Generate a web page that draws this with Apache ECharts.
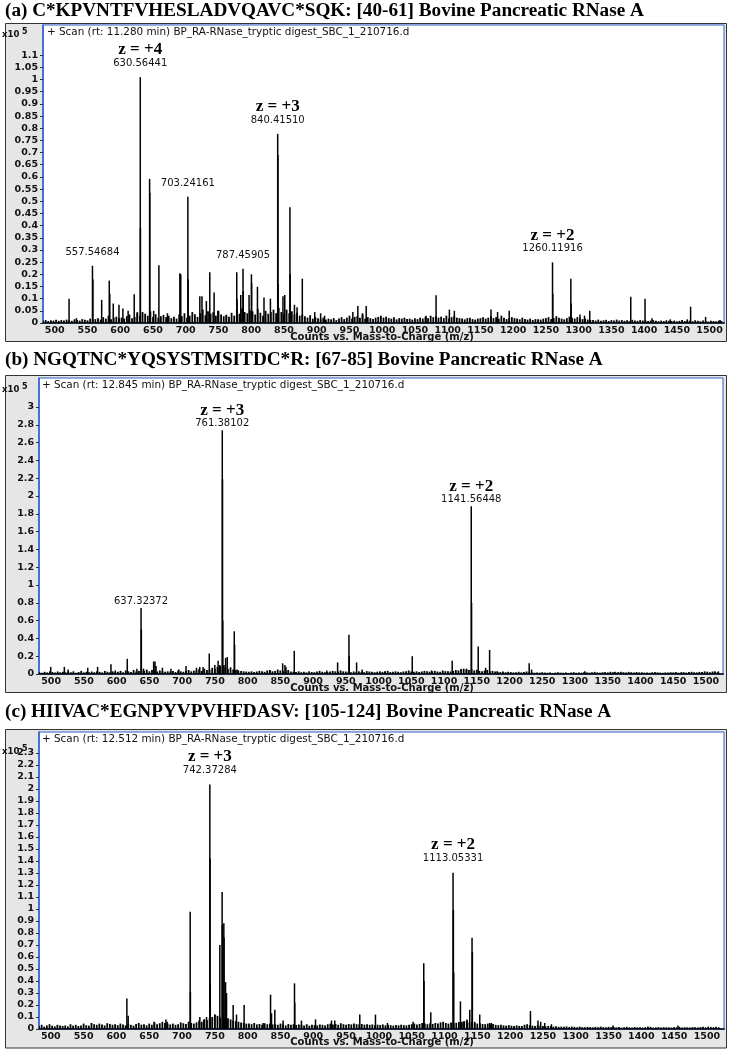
<!DOCTYPE html>
<html><head><meta charset="utf-8">
<script src="https://cdn.jsdelivr.net/npm/echarts@6.0.0/dist/echarts.min.js"></script>
<style>html,body{margin:0;padding:0;background:#fff}#c{width:730px;height:1050px}</style>
</head><body><div id="c"></div>
<script>
// ---------------- DATA ----------------
const titles = [
  '(a) C*KPVNTFVHESLADVQAVC*SQK: [40-61] Bovine Pancreatic RNase A',
  '(b) NGQTNC*YQSYSTMSITDC*R: [67-85] Bovine Pancreatic RNase A',
  '(c) HIIVAC*EGNPYVPVHFDASV: [105-124] Bovine Pancreatic RNase A'
];
const scanHeaders = [
  '+ Scan (rt: 11.280 min) BP_RA-RNase_tryptic digest_SBC_1_210716.d',
  '+ Scan (rt: 12.845 min) BP_RA-RNase_tryptic digest_SBC_1_210716.d',
  '+ Scan (rt: 12.512 min) BP_RA-RNase_tryptic digest_SBC_1_210716.d'
];
const xAxisTitle = 'Counts vs. Mass-to-Charge (m/z)';
const xTicks = [500,550,600,650,700,750,800,850,900,950,1000,1050,1100,1150,1200,1250,1300,1350,1400,1450,1500];
const yTicksA = [0,0.05,0.1,0.15,0.2,0.25,0.3,0.35,0.4,0.45,0.5,0.55,0.6,0.65,0.7,0.75,0.8,0.85,0.9,0.95,1,1.05,1.1];
const yTicksB = [0,0.2,0.4,0.6,0.8,1,1.2,1.4,1.6,1.8,2,2.2,2.4,2.6,2.8,3];
const yTicksC = [0,0.1,0.2,0.3,0.4,0.5,0.6,0.7,0.8,0.9,1,1.1,1.2,1.3,1.4,1.5,1.6,1.7,1.8,1.9,2,2.1,2.2,2.3];

// peaks: [m/z, intensity (x10^5 counts)]
const peaksA = [
 [521.8,0.10],[533,0.02],[557.55,0.235],[558.2,0.18],[571.6,0.095],[583.2,0.174],[584,0.12],[589.3,0.08],[598,0.075],[604,0.06],[612,0.05],
 [621.3,0.118],[626,0.045],[630.56,1.01],[630.81,0.39],[644.8,0.592],[645.1,0.535],[651,0.05],[659,0.237],[672,0.04],[691,0.204],[692.4,0.2],
 [703.24,0.519],[703.6,0.18],[721.5,0.11],[724.8,0.11],[731.5,0.09],[736.7,0.208],[743.3,0.125],[749,0.05],[762,0.03],[777.9,0.208],[778.3,0.1],
 [784,0.115],[787.46,0.223],[787.8,0.13],[796.7,0.115],[800.3,0.2],[800.6,0.165],[809.5,0.149],[819.5,0.105],[829.3,0.1],[840.42,0.777],
 [840.75,0.69],[841.1,0.16],[848.5,0.11],[851.2,0.115],[859.1,0.475],[859.5,0.2],[866,0.075],[870,0.065],[878,0.182],[897,0.045],[906,0.04],
 [912,0.03],[955.2,0.045],[962.8,0.07],[970,0.04],[975.6,0.07],[1067,0.03],[1082.3,0.114],[1102.6,0.055],[1110.2,0.05],[1166.2,0.055],
 [1176.2,0.045],[1194,0.05],[1260.12,0.249],[1260.5,0.12],[1288.1,0.182],[1288.5,0.08],[1302,0.035],[1309,0.03],[1317,0.05],[1379.6,0.108],
 [1401.4,0.10],[1412,0.02],[1440,0.015],[1466,0.015],[1471,0.067],[1493.9,0.025],[1516,0.012]
];
const peaksB = [
 [499.4,0.08],[520.2,0.08],[526,0.05],[555.9,0.07],[571,0.08],[591.4,0.11],[598,0.04],[616.3,0.17],[631,0.06],[637.32,0.742],[637.8,0.5],
 [641,0.06],[656.6,0.14],[658.6,0.14],[660.2,0.09],[670,0.07],[683,0.06],[695,0.05],[706,0.09],[722,0.07],[727,0.08],[732,0.08],[741.5,0.23],
 [750,0.1],[755,0.15],[757.5,0.1],[761.38,2.738],[761.71,2.19],[762.05,0.6],[764,0.1],[766.5,0.18],[769,0.19],[779.7,0.48],[780.2,0.33],
 [784,0.05],[834,0.04],[853.6,0.12],[857.1,0.1],[858.6,0.08],[871.3,0.26],[921,0.04],[937.5,0.13],[954.8,0.44],[955.3,0.2],[966.5,0.13],
 [975,0.05],[1009.8,0.03],[1051.5,0.2],[1081,0.04],[1112.5,0.15],[1134.5,0.06],[1141.56,1.884],[1142.06,0.8],[1152.2,0.31],[1163.5,0.07],
 [1169.6,0.27],[1181,0.03],[1230,0.12],[1233.7,0.05],[1315,0.03],[1361,0.025],[1462.7,0.02],[1513.6,0.03],[1519,0.03]
];
const peaksC = [
 [615.9,0.253],[617.9,0.11],[657.5,0.06],[675.4,0.08],[677.3,0.06],[712.4,0.977],[712.75,0.31],[727.1,0.1],[733.2,0.08],[737.3,0.1],
 [742.37,2.035],[742.7,1.42],[743.05,0.38],[750,0.12],[757.6,0.70],[761.1,1.14],[761.45,0.866],[763.7,0.88],[764.05,0.76],[766.3,0.39],
 [767.8,0.3],[777.9,0.2],[783,0.12],[794.6,0.2],[823.6,0.05],[834.9,0.286],[836.4,0.13],[841.4,0.16],[854,0.07],[871.4,0.38],[871.8,0.22],
 [882,0.07],[903.4,0.08],[927.8,0.07],[932.8,0.07],[970.9,0.12],[994.8,0.12],[1013,0.05],[1052.1,0.06],[1068.4,0.547],[1068.8,0.4],
 [1079.1,0.14],[1113.05,1.302],[1113.55,0.99],[1114.05,0.47],[1124.3,0.23],[1128.3,0.06],[1134.4,0.08],[1138.5,0.16],[1142,0.76],
 [1142.5,0.64],[1146.1,0.06],[1153.7,0.12],[1169,0.05],[1171.5,0.05],[1231,0.15],[1242.5,0.07],[1246.6,0.06],[1252.7,0.05],[1263,0.04],
 [1356.8,0.03],[1410,0.02],[1455.8,0.03]
];

// baseline noise: heights in 0.001 x10^5 counts, on an m/z grid starting at 482, step 4
const noiseStart = 482, noiseStep = 4;
const noiseA = [
 9,12,8,11,10,13,9,12,10,14, 11,9,15,12,10,16,13,11,18,14, 16,20,14,24,18,30,15,22,26,19, 22,18,28,35,20,25,40,30,45,38,
 30,48,25,36,22,28,33,24,30,20, 26,18,35,28,40,22,30,45,36,25, 40,55,32,48,38,44,30,50,35,28, 34,26,42,30,55,38,60,45,40,52,
 48,35,58,42,30,50,38,45,55,40, 62,45,38,55,40,48,35,42,30,36, 28,22,32,18,25,20,16,22,14,18, 15,20,12,18,24,16,22,30,18,25,
 28,22,35,18,24,20,16,22,25,30, 22,26,20,18,24,15,20,18,22,16, 18,14,20,16,22,18,25,20,30,24, 28,22,26,20,30,18,24,28,22,20,
 18,15,20,22,16,14,18,20,24,18, 22,28,20,24,18,30,22,16,20,24, 20,18,15,22,16,14,18,12,16,15, 14,18,20,24,16,20,28,22,18,15,
 20,26,22,18,24,20,16,18,14,12, 12,10,14,9,11,13,8,12,10,14, 10,12,9,11,8,13,10,9,12,10, 11,8,10,12,9,7,10,8,11,9,
 8,10,7,9,12,8,10,9,7,11, 9,7,10,8,6,9,8,7,10,8
];
const noiseB = [
 20,15,25,18,30,22,16,28,20,24, 18,26,20,30,15,22,35,18,25,20, 28,20,32,24,18,35,26,20,30,22, 25,35,20,40,30,22,45,28,35,30,
 38,50,30,45,35,28,40,32,25,30, 28,35,22,40,30,25,35,45,30,38, 40,55,35,60,45,50,70,55,80,90, 85,70,60,75,50,45,40,35,30,28,
 25,30,22,28,35,30,25,40,45,30, 35,50,40,35,30,45,28,25,22,30, 20,25,18,30,22,20,28,35,25,20, 22,28,35,30,25,40,30,28,25,20,
 28,22,30,25,20,32,28,24,20,26, 30,24,28,35,22,26,30,25,20,28, 32,40,28,25,30,22,28,35,30,26, 30,35,28,25,40,32,30,28,35,45,
 40,55,60,50,45,55,40,48,35,30, 38,45,30,35,28,25,22,28,20,25, 22,18,20,25,18,22,28,20,18,15, 18,15,20,16,14,18,12,16,20,15,
 14,18,12,16,20,14,18,15,22,18, 16,20,24,18,15,20,22,18,25,20, 18,22,25,20,18,24,20,16,22,18, 20,16,18,14,20,22,18,16,14,18,
 16,20,18,22,15,18,20,16,22,25, 20,18,24,22,30,26,20,28,24,20
];
const noiseC = [
 25,35,20,30,40,28,22,35,30,25, 30,22,40,28,35,25,30,45,32,28, 50,40,35,45,38,30,48,42,35,40, 32,45,38,30,40,35,28,42,50,36,
 40,30,45,35,55,40,48,60,50,45, 38,45,35,40,55,48,42,60,50,45, 55,70,60,80,75,90,100,120,110,95, 110,100,90,80,70,65,60,55,50,45,
 45,40,50,38,42,35,48,40,45,38, 40,35,45,38,30,42,36,40,34,38, 35,30,40,28,36,32,30,38,35,30, 40,45,38,42,35,48,40,36,42,38,
 45,40,38,42,36,40,35,38,32,36, 34,38,30,36,32,28,34,30,36,32, 30,35,40,45,38,42,50,45,40,48, 42,50,45,55,60,50,45,55,48,52,
 58,60,65,70,55,60,50,45,48,42, 40,45,38,42,35,32,36,30,28,32, 28,25,30,26,24,35,40,32,28,26, 30,28,25,22,26,24,20,22,18,20,
 18,22,16,20,18,15,20,16,14,18, 16,14,18,15,20,16,14,18,15,16, 14,16,12,15,18,14,12,16,14,15, 12,15,14,18,12,14,16,12,15,14,
 14,12,16,14,18,12,15,14,13,16, 15,13,16,18,14,20,16,15,18,14
];

// annotations: [m/z, intensity, charge text, m/z text]
const annA = [
 [557.54684,0.235,'','557.54684'],[630.56441,1.01,'z = +4','630.56441'],[703.24161,0.519,'','703.24161'],
 [787.45905,0.223,'','787.45905'],[840.41510,0.777,'z = +3','840.41510'],[1260.11916,0.249,'z = +2','1260.11916']
];
const annB = [[637.32372,0.742,'','637.32372'],[761.38102,2.738,'z = +3','761.38102'],[1141.56448,1.884,'z = +2','1141.56448']];
const annC = [[742.37284,2.035,'z = +3','742.37284'],[1113.05331,1.302,'z = +2','1113.05331']];

// ---------------- LAYOUT ----------------
const SANS = 'DejaVu Sans';
const SERIF = 'Liberation Serif';
const panels = [
  {grid:{left:43, top:25, width:681, height:298}, xmin:482, xmax:1522, ymax:1.224, yTicks:yTicksA, peaks:peaksA, noise:noiseA, ann:annA,
   box:[5.5,23.5,721,318], titleY:11, scan:[47,32], x10:[2,35], cnt:337, labDist:7},
  {grid:{left:39, top:378, width:684, height:296}, xmin:481.5, xmax:1526, ymax:3.326, yTicks:yTicksB, peaks:peaksB, noise:noiseB, ann:annB,
   box:[5.5,375.5,721,317], titleY:360, scan:[42,385], x10:[2,390], cnt:688, labDist:0},
  {grid:{left:39, top:732, width:685, height:297}, xmin:482, xmax:1526, ymax:2.473, yTicks:yTicksC, peaks:peaksC, noise:noiseC, ann:annC,
   box:[5.5,729.5,721,318.5], titleY:712, scan:[42,739], x10:[2,752], cnt:1042, labDist:8}
];

function stick(width){
  return function(params, api){
    const x = api.value(0), y = api.value(1);
    const p0 = api.coord([x, 0]), p1 = api.coord([x, y]);
    return {type:'line', shape:{x1:p0[0], y1:p0[1], x2:p1[0], y2:p1[1]},
            style:{stroke:'#000', lineWidth:width}};
  };
}
const fmt = v => String(parseFloat(Number(v).toFixed(3)));

const grids=[], xAxes=[], yAxes=[], series=[], graphics=[];
panels.forEach((p,i)=>{
  grids.push(Object.assign({show:true, backgroundColor:'#fff', borderColor:'#2d5fcf', borderWidth:1}, p.grid));
  xAxes.push({type:'value', gridIndex:i, min:p.xmin, max:p.xmax,
    axisLine:{show:true, onZero:false, lineStyle:{color:'#1d2a44', width:2}},
    axisTick:{show:false}, splitLine:{show:false},
    axisLabel:{customValues:xTicks, formatter:fmt, margin:3, color:'#111', fontFamily:SANS, fontSize:9.5, fontWeight:'bold', hideOverlap:false}});
  yAxes.push({type:'value', gridIndex:i, min:0, max:p.ymax,
    axisLine:{show:true, lineStyle:{color:'#2d5fcf', width:1.5}},
    axisTick:{show:true, length:3, customValues:p.yTicks, lineStyle:{color:'#333'}},
    splitLine:{show:false},
    axisLabel:{customValues:p.yTicks, formatter:fmt, margin:5, color:'#111', fontFamily:SANS, fontSize:9.5, fontWeight:'bold'}});
  const noiseData = p.noise.map((v,k)=>[noiseStart + k*noiseStep, v/1000]);
  series.push({type:'custom', xAxisIndex:i, yAxisIndex:i, clip:true, renderItem:stick(1.8), data:noiseData, silent:true});
  series.push({type:'custom', xAxisIndex:i, yAxisIndex:i, clip:true, renderItem:stick(1.5), data:p.peaks, silent:true});
  series.push({type:'scatter', xAxisIndex:i, yAxisIndex:i, symbol:'circle', symbolSize:1, silent:true, z:5,
    itemStyle:{color:'rgba(0,0,0,0)'},
    data:p.ann.map(a=>({value:[a[0],a[1]], chg:a[2], mz:a[3]})),
    label:{show:true, position:'top', distance:p.labDist, opacity:1,
      formatter: q => (q.data.chg ? '{z|'+q.data.chg+'}\n' : '') + '{m|'+q.data.mz+'}',
      rich:{z:{fontFamily:SERIF, fontWeight:'bold', fontSize:17, lineHeight:15, color:'#000'},
            m:{fontFamily:SANS, fontSize:10, lineHeight:12, color:'#111'}}}});
  graphics.push({type:'rect', z:-10, shape:{x:p.box[0], y:p.box[1], width:p.box[2], height:p.box[3]},
    style:{fill:'#e6e6e6', stroke:'#333', lineWidth:1}});
  graphics.push({type:'text', z:10, style:{text:titles[i], x:5, y:p.titleY, font:'bold 19.2px "'+SERIF+'"', fill:'#000', verticalAlign:'middle', textVerticalAlign:'middle'}});
  graphics.push({type:'text', z:10, style:{text:'x10', x:p.x10[0], y:p.x10[1], font:'bold 8.5px "'+SANS+'"', fill:'#111', verticalAlign:'middle', textVerticalAlign:'middle'}});
  graphics.push({type:'text', z:10, style:{text:'5', x:p.x10[0]+20, y:p.x10[1]-3, font:'bold 8px "'+SANS+'"', fill:'#111', verticalAlign:'middle', textVerticalAlign:'middle'}});
  graphics.push({type:'text', z:10, style:{text:scanHeaders[i], x:p.scan[0], y:p.scan[1], font:'10.4px "'+SANS+'"', fill:'#111', verticalAlign:'middle', textVerticalAlign:'middle'}});
  graphics.push({type:'text', z:10, style:{text:xAxisTitle, x:382, y:p.cnt, font:'bold 10px "'+SANS+'"', fill:'#111', align:'center', textAlign:'center', verticalAlign:'middle', textVerticalAlign:'middle'}});
});

const chart = echarts.init(document.getElementById('c'), null, {renderer:'canvas'});
chart.setOption({animation:false, backgroundColor:'#fff', grid:grids, xAxis:xAxes, yAxis:yAxes, series:series, graphic:{elements:graphics}});
</script></body></html>
